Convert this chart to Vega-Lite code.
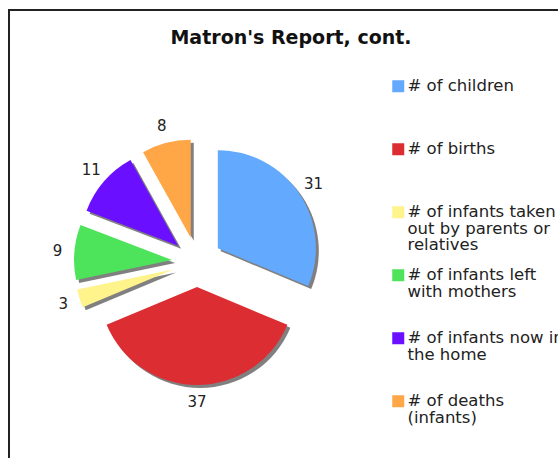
{
  "$schema": "https://vega.github.io/schema/vega-lite/v6.json",
  "width": 551,
  "height": 450,
  "autosize": {"type": "none"},
  "padding": {"left": 9, "top": 10, "right": -2, "bottom": -2},
  "background": "white",
  "title": {
    "text": "Matron's Report, cont.",
    "font": "DejaVu Sans",
    "fontSize": 19,
    "fontWeight": "bold",
    "color": "#111111",
    "anchor": "middle",
    "frame": "group",
    "baseline": "alphabetic",
    "offset": -53,
    "dx": 6.5
  },
  "config": {
    "view": {"stroke": "#222222", "strokeWidth": 2},
    "font": "DejaVu Sans"
  },
  "data": {
    "values": [
      {"category": "# of children", "value": 31, "order": 1},
      {"category": "# of births", "value": 37, "order": 2},
      {"category": "# of infants taken out by parents or relatives", "value": 3, "order": 3},
      {"category": "# of infants left with mothers", "value": 9, "order": 4},
      {"category": "# of infants now in the home", "value": 11, "order": 5},
      {"category": "# of deaths (infants)", "value": 8, "order": 6}
    ]
  },
  "transform": [
    {"stack": "value", "groupby": [], "sort": [{"field": "order", "order": "ascending"}], "as": ["start", "end"]},
    {"joinaggregate": [{"op": "sum", "field": "value", "as": "total"}]},
    {"calculate": "PI * (datum.start + datum.end) / datum.total", "as": "mid"},
    {"calculate": "sin(datum.mid)", "as": "ux"},
    {"calculate": "cos(datum.mid)", "as": "uy"}
  ],
  "layer": [
    {
      "mark": {"type": "arc", "outerRadius": 98, "fill": "#808080"},
      "encoding": {
        "theta": {"field": "start", "type": "quantitative", "scale": {"domain": [0, 99], "nice": false}},
        "theta2": {"field": "end"},
        "x": {"field": "ux", "type": "quantitative", "scale": {"domain": [-1, 1], "range": [166, 216]}, "axis": null},
        "y": {"field": "uy", "type": "quantitative", "scale": {"domain": [-1, 1], "range": [280, 230]}, "axis": null}
      }
    },
    {
      "mark": {"type": "arc", "outerRadius": 98, "strokeWidth": 0},
      "encoding": {
        "theta": {"field": "start", "type": "quantitative", "scale": {"domain": [0, 99], "nice": false}},
        "theta2": {"field": "end"},
        "x": {"field": "ux", "type": "quantitative", "scale": {"domain": [-1, 1], "range": [163, 213]}, "axis": null},
        "y": {"field": "uy", "type": "quantitative", "scale": {"domain": [-1, 1], "range": [277, 227]}, "axis": null},
        "color": {
          "field": "category",
          "type": "nominal",
          "scale": {
            "domain": ["# of children", "# of births", "# of infants taken out by parents or relatives", "# of infants left with mothers", "# of infants now in the home", "# of deaths (infants)"],
            "range": ["#63AAFF", "#DC2D33", "#FFF38C", "#4DE35A", "#6A0FFF", "#FFA647"]
          },
          "legend": {
            "title": null,
            "orient": "none",
            "legendX": 381,
            "legendY": 68,
            "padding": 0,
            "symbolType": "square",
            "symbolSize": 144,
            "symbolStrokeWidth": 0,
            "symbolOpacity": 1,
            "labelFont": "DejaVu Sans",
            "labelFontSize": 16.5,
            "labelColor": "#222222",
            "labelOffset": 1,
            "labelLimit": 400,
            "labelBaseline": "alphabetic",
            "gridAlign": "all",
            "rowPadding": 13,
            "labelExpr": "datum.label == '# of infants taken out by parents or relatives' ? ['# of infants taken', 'out by parents or', 'relatives'] : datum.label == '# of infants left with mothers' ? ['# of infants left', 'with mothers'] : datum.label == '# of infants now in the home' ? ['# of infants now in', 'the home'] : datum.label == '# of deaths (infants)' ? ['# of deaths', '(infants)'] : datum.label",
            "encoding": {"labels": {"dy": {"value": 5}, "lineHeight": {"value": 16.5}}}
          }
        }
      }
    },
    {
      "mark": {"type": "text", "font": "DejaVu Sans", "fontSize": 15, "color": "#222222", "align": "center", "baseline": "middle"},
      "encoding": {
        "x": {"field": "ux", "type": "quantitative", "scale": {"domain": [-1, 1], "range": [48, 328]}, "axis": null},
        "y": {"field": "uy", "type": "quantitative", "scale": {"domain": [-1, 1], "range": [392, 112]}, "axis": null},
        "text": {"field": "value", "type": "quantitative"}
      }
    }
  ],
  "resolve": {"scale": {"x": "independent", "y": "independent", "theta": "independent"}}
}
